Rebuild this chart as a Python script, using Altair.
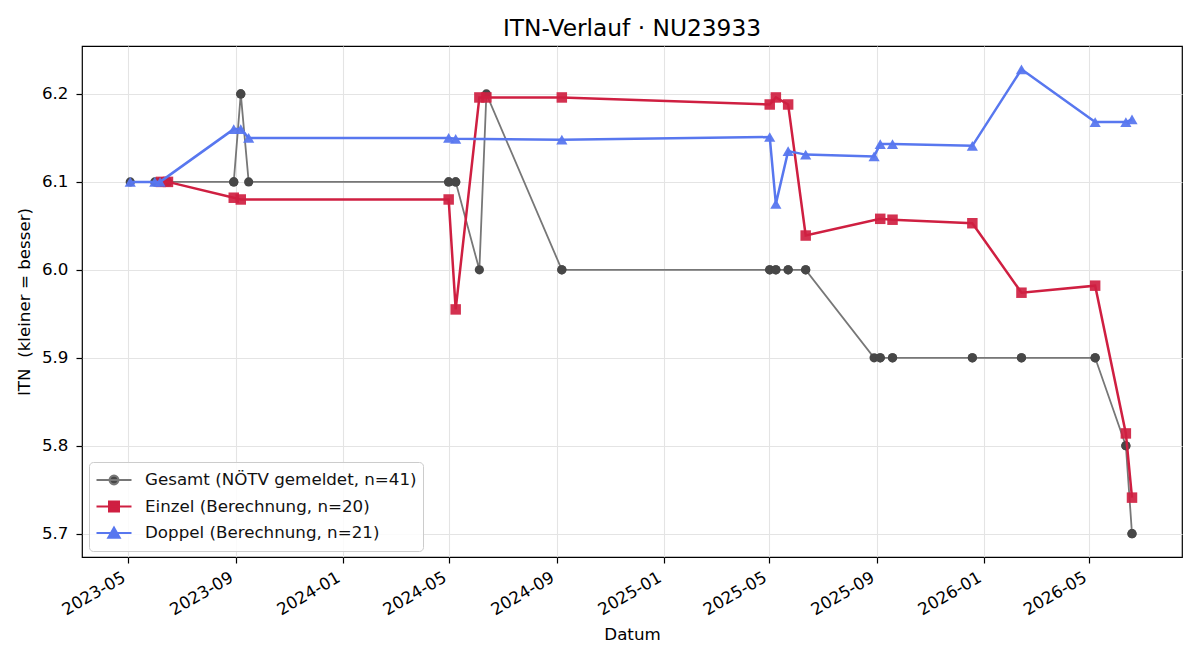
import altair as alt
import pandas as pd

# ---------------- data ----------------
series_names = [
    "Gesamt (NÖTV gemeldet, n=41)",
    "Einzel (Berechnung, n=20)",
    "Doppel (Berechnung, n=21)",
]

gesamt_dates = [
    "2023-05-04", "2023-06-01", "2023-06-07", "2023-06-08", "2023-06-16",
    "2023-08-30", "2023-08-30", "2023-09-07", "2023-09-07", "2023-09-16",
    "2024-05-01", "2024-05-01", "2024-05-09", "2024-05-09", "2024-06-05",
    "2024-06-13", "2024-09-07", "2024-09-07", "2025-05-02", "2025-05-02",
    "2025-05-09", "2025-05-09", "2025-05-23", "2025-05-23", "2025-06-12",
    "2025-06-12", "2025-08-29", "2025-09-05", "2025-09-05", "2025-09-19",
    "2025-09-19", "2025-12-19", "2025-12-19", "2026-02-13", "2026-02-13",
    "2026-05-08", "2026-05-08", "2026-06-12", "2026-06-12", "2026-06-19",
    "2026-06-19",
]
gesamt_values = [
    6.1, 6.1, 6.1, 6.1, 6.1,
    6.1, 6.1, 6.2, 6.2, 6.1,
    6.1, 6.1, 6.1, 6.1, 6.0,
    6.2, 6.0, 6.0, 6.0, 6.0,
    6.0, 6.0, 6.0, 6.0, 6.0,
    6.0, 5.9, 5.9, 5.9, 5.9,
    5.9, 5.9, 5.9, 5.9, 5.9,
    5.9, 5.9, 5.8, 5.8, 5.7,
    5.7,
]

einzel_dates = [
    "2023-06-08", "2023-06-16", "2023-08-30", "2023-09-07", "2024-05-01",
    "2024-05-09", "2024-06-05", "2024-06-13", "2024-09-07", "2025-05-02",
    "2025-05-09", "2025-05-23", "2025-06-12", "2025-09-05", "2025-09-19",
    "2025-12-19", "2026-02-13", "2026-05-08", "2026-06-12", "2026-06-19",
]
einzel_values = [
    6.1, 6.1, 6.082, 6.080, 6.080,
    5.955, 6.196, 6.196, 6.196, 6.188,
    6.196, 6.188, 6.039, 6.058, 6.057,
    6.053, 5.974, 5.982, 5.814, 5.741,
]

doppel_dates = [
    "2023-05-04", "2023-06-01", "2023-06-07", "2023-08-30", "2023-09-07",
    "2023-09-16", "2024-05-01", "2024-05-09", "2024-09-07", "2025-05-02",
    "2025-05-09", "2025-05-23", "2025-06-12", "2025-08-29", "2025-09-05",
    "2025-09-19", "2025-12-19", "2026-02-13", "2026-05-08", "2026-06-12",
    "2026-06-19",
]
doppel_values = [
    6.1, 6.1, 6.1, 6.16, 6.16,
    6.15, 6.15, 6.149, 6.148, 6.151,
    6.075, 6.135, 6.131, 6.129, 6.143,
    6.143, 6.141, 6.228, 6.168, 6.168,
    6.171,
]

y_ticks = [5.7, 5.8, 5.9, 6.0, 6.1, 6.2]
x_tick_months = [(2023, 5), (2023, 9), (2024, 1), (2024, 5), (2024, 9), (2025, 1),
                 (2025, 5), (2025, 9), (2026, 1), (2026, 5)]

# ---------------- styling ----------------
FONT = "DejaVu Sans"
FS = 16.7
GRAY_LINE = "#777777"
GRAY_PT = "#474747"
RED = "#cf1f41"
BLUE = "#5877ef"

df_g = pd.DataFrame({"date": gesamt_dates, "itn": gesamt_values})
df_e = pd.DataFrame({"date": einzel_dates, "itn": einzel_values})
df_d = pd.DataFrame({"date": doppel_dates, "itn": doppel_values})
df_leg = pd.DataFrame({"series": series_names})

x_enc = alt.X(
    "date:T",
    title="Datum",
    scale=alt.Scale(
        type="utc",
        domain=[alt.DateTime(year=2023, month=3, date=10, utc=True),
                alt.DateTime(year=2026, month=8, date=15, utc=True)],
    ),
    axis=alt.Axis(
        values=[alt.DateTime(year=y, month=m, date=1, utc=True) for y, m in x_tick_months],
        format="%Y-%m",
        labelAngle=-30,
        labelAlign="right",
        labelBaseline="top",
        labelPadding=6,
        labelOffset=-8,
        titleY=82,
        titleBaseline="alphabetic",
    ),
)
y_enc = alt.Y(
    "itn:Q",
    title="ITN\u00a0 (kleiner = besser)",
    scale=alt.Scale(domain=[5.6735, 6.2545], nice=False, zero=False),
    axis=alt.Axis(
        values=y_ticks,
        format=".1f",
        labelPadding=8,
        titleX=-53,
        titleY=255.5,
        titleAlign="center",
        titleBaseline="alphabetic",
        titleAngle=-90,
    ),
)


def series_layers(df, line_color, pt_color, shape, size, width, pt_opacity):
    base = alt.Chart(df).encode(x=x_enc, y=y_enc)
    line = base.mark_line(color=line_color, strokeWidth=width)
    pts = base.mark_point(filled=True, shape=shape, size=size, color=pt_color,
                          opacity=pt_opacity, strokeWidth=0)
    return [line, pts]


layers = []
layers += series_layers(df_g, GRAY_LINE, GRAY_PT, "circle", 85, 1.8, 1.0)
layers += series_layers(df_e, RED, RED, "square", 110, 2.5, 0.92)
layers += series_layers(df_d, BLUE, BLUE, "triangle-up", 125, 2.5, 0.95)

legend_paths = [
    "M-1,0H1M0.25,0A0.25,0.25 0 1,1 -0.25,0A0.25,0.25 0 1,1 0.25,0Z",
    "M-1,0H1M-0.28,-0.28H0.28V0.28H-0.28Z",
    "M-1,0H1M0,-0.3L0.32,0.26L-0.32,0.26Z",
]
leg = alt.Legend(title=None, orient="none", legendX=7, legendY=416)
legend_layer = (
    alt.Chart(df_leg)
    .transform_filter("false")
    .mark_point(filled=True)
    .encode(
        fill=alt.Fill("series:N", scale=alt.Scale(domain=series_names,
                                                  range=[GRAY_PT, RED, BLUE]), legend=leg),
        stroke=alt.Stroke("series:N", scale=alt.Scale(domain=series_names,
                                                      range=[GRAY_LINE, RED, BLUE]), legend=leg),
        shape=alt.Shape("series:N", scale=alt.Scale(domain=series_names,
                                                    range=legend_paths), legend=leg),
    )
)
layers.append(legend_layer)

chart = (
    alt.layer(*layers)
    .properties(
        width=1100,
        height=511,
        autosize=alt.AutoSizeParams(type="none"),
        padding={"left": 82, "top": 46, "right": 18, "bottom": 103},
        title=alt.TitleParams(
            "ITN-Verlauf · NU23933",
            font=FONT, fontSize=23.3, fontWeight="normal", color="black",
            anchor="middle", offset=5,
        ),
    )
    .configure_view(stroke="black", strokeWidth=1.2)
    .configure_axis(
        domain=False,
        grid=True,
        gridColor="#e4e4e4",
        gridWidth=1.1,
        ticks=True,
        tickColor="black",
        tickSize=6,
        tickWidth=1.2,
        labelFont=FONT,
        labelFontSize=FS,
        labelColor="black",
        titleFont=FONT,
        titleFontSize=FS,
        titleFontWeight="normal",
        titleColor="black",
        labelOverlap=False,
        labelFlush=False,
    )
    .configure_legend(
        labelFont=FONT,
        labelFontSize=FS,
        labelColor="#111111",
        labelLimit=600,
        symbolSize=1225,
        symbolStrokeWidth=2.2,
        symbolOpacity=1,
        labelOffset=12,
        clipHeight=24,
        rowPadding=2.5,
        padding=6,
        fillColor="rgba(255,255,255,0.85)",
        strokeColor="#cccccc",
        cornerRadius=4,
    )
)

chart.save("out.html", embed_options={"renderer": "svg", "actions": False})
